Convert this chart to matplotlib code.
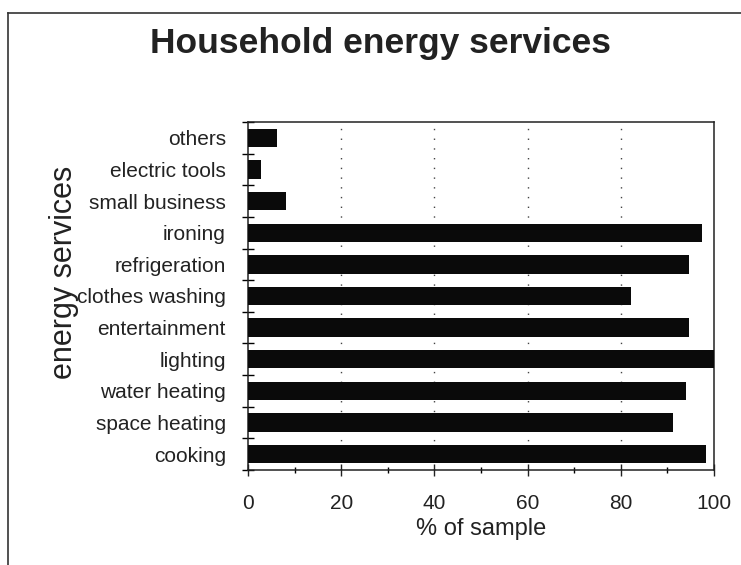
import numpy as np
import matplotlib.pyplot as plt
from matplotlib.lines import Line2D

# data, bottom to top
services = ['cooking', 'space heating', 'water heating', 'lighting',
            'entertainment', 'clothes washing', 'refrigeration', 'ironing',
            'small business', 'electric tools', 'others']
pct = [98.3, 91.2, 93.9, 100, 94.7, 82.2, 94.7, 97.4, 8.2, 2.8, 6.2]
xticks = [0, 20, 40, 60, 80, 100]

plt.rcParams['font.family'] = ['Liberation Sans', 'DejaVu Sans']

fig = plt.figure(figsize=(7.41, 5.65), dpi=100)
ax = fig.add_axes([248 / 741, 95 / 565, 466 / 741, 348 / 565])

y = np.arange(len(services))
ax.barh(y, pct, height=0.58, color='#0a0a0a', zorder=3)

ax.set_xlim(0, 100)
ax.set_ylim(-0.5, len(services) - 0.5)

ax.set_xticks(xticks)
ax.set_xticks(np.arange(10, 100, 20), minor=True)
ax.set_yticks(y)
ax.set_yticklabels(services)
ax.set_yticks(np.arange(-0.5, len(services), 1), minor=True)

ax.tick_params(axis='x', which='major', direction='inout', length=8, width=1,
               labelsize=15, pad=13, colors='#222222')
ax.tick_params(axis='x', which='minor', direction='inout', length=5, width=1)
ax.tick_params(axis='y', which='major', length=0, labelsize=15, pad=16,
               colors='#222222')
ax.tick_params(axis='y', which='minor', direction='inout', length=8, width=1)

for s in ax.spines.values():
    s.set_linewidth(1.1)
    s.set_color('#222222')

for g in xticks[1:-1]:
    ax.axvline(g, color='#444444', linewidth=1, linestyle=(0, (1, 6)), zorder=1)

ax.set_xlabel('% of sample', fontsize=17, color='#222222', labelpad=4)

# axis title placed like the original (a bit above the axes centre)
fig.text(64, 565 - 272, 'energy services', transform=None, rotation=90,
         ha='center', va='center', fontsize=22, color='#222222')

fig.text(380, 565 - 43, 'Household energy services', transform=None,
         ha='center', va='center', fontsize=25.5, fontweight='bold', color='#222222')

# outer frame of the scanned figure
fig.add_artist(Line2D([8 / 741, 8 / 741], [0, 1 - 13 / 565], color='#333333', lw=1.2))
fig.add_artist(Line2D([8 / 741, 1], [1 - 13 / 565, 1 - 13 / 565], color='#333333', lw=1.2))

fig.savefig('out.png', dpi=100)
